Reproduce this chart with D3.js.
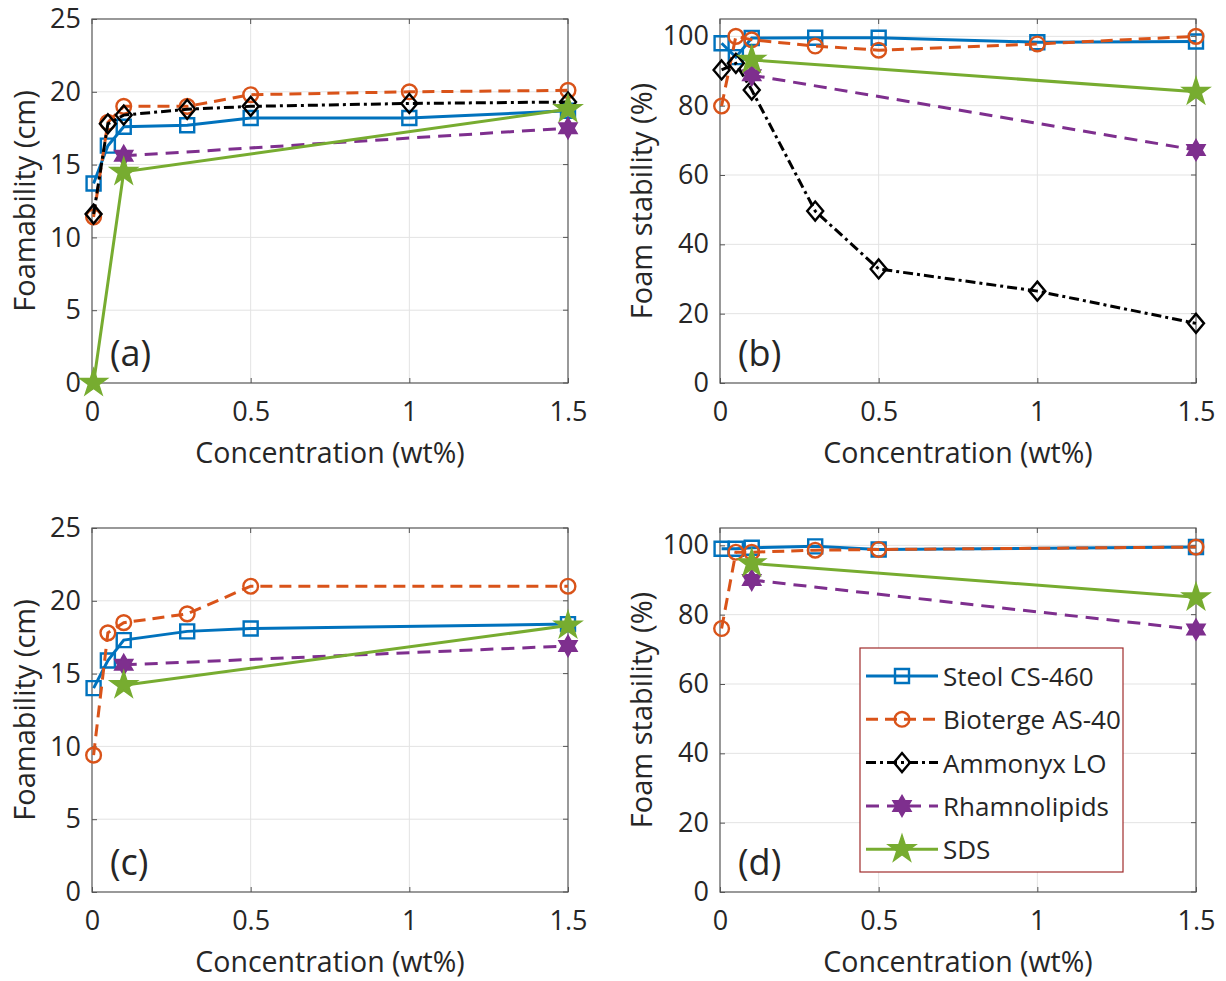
<!DOCTYPE html>
<html>
<head>
<meta charset="utf-8">
<script src="https://cdn.jsdelivr.net/npm/d3@7"></script>
<style>
  body { margin: 0; background: #fff; }
  text { font-family: "Open Sans", "Noto Sans", sans-serif; fill: #262626; }
</style>
</head>
<body>
<div id="chart"></div>
<script>
// concentration values (wt%)
const conc = [0.005, 0.05, 0.1, 0.3, 0.5, 1, 1.5];
const seriesNames = ['Steol CS-460', 'Bioterge AS-40', 'Ammonyx LO', 'Rhamnolipids', 'SDS'];

// (a) foamability, cm
const steolA    = [13.7, 16.3, 17.6, 17.7, 18.2, 18.2, 18.7];
const biotergeA = [11.4, 17.9, 19.0, 19.0, 19.8, 20.0, 20.1];
const ammonyxA  = [11.6, 17.8, 18.4, 18.8, 19.0, 19.2, 19.3];
const rhamnoA   = [null, null, 15.6, null, null, null, 17.5];
const sdsA      = [0, null, 14.5, null, null, null, 18.8];

// (b) foam stability, %
const steolB    = [98.0, 94.0, 99.5, 99.6, 99.6, 98.3, 98.5];
const biotergeB = [79.9, 100, 99.0, 97.2, 96.0, 97.8, 100];
const ammonyxB  = [90.3, 92.2, 84.5, 49.6, 32.9, 26.5, 17.2];
const rhamnoB   = [null, null, 88.8, null, null, null, 67.2];
const sdsB      = [null, null, 93.2, null, null, null, 84.0];

// (c) foamability, cm
const steolC    = [14.0, 15.9, 17.3, 17.9, 18.1, null, 18.4];
const biotergeC = [9.4, 17.8, 18.5, 19.1, 21.0, null, 21.0];
const rhamnoC   = [null, null, 15.6, null, null, null, 16.9];
const sdsC      = [null, null, 14.2, null, null, null, 18.3];

// (d) foam stability, %
const steolD    = [99.0, 99.0, 99.3, 99.7, 98.8, null, 99.5];
const biotergeD = [76.0, 98.0, 98.0, 98.6, 98.8, null, 99.5];
const rhamnoD   = [null, null, 90.0, null, null, null, 75.7];
const sdsD      = [null, null, 94.8, null, null, null, 85.0];

const xTicks = [0, 0.5, 1, 1.5];
const foamTicks = [0, 5, 10, 15, 20, 25];
const stabTicks = [0, 20, 40, 60, 80, 100];

const w = 1226, h = 981;
const svg = d3.select('#chart').append('svg')
  .attr('width', w).attr('height', h);

const styles = [
  { color: '#0072BD', dash: null, marker: 'square' },
  { color: '#D95319', dash: '12,7', marker: 'circle' },
  { color: '#000000', dash: '10,4,3,4', marker: 'diamond' },
  { color: '#7E2F8E', dash: '13,8', marker: 'hexagram' },
  { color: '#77AC30', dash: null, marker: 'star' }
];

function hexagram(r) {
  const pts = [];
  for (let i = 0; i < 12; i++) {
    const a = -Math.PI / 2 + i * Math.PI / 6;
    const rr = i % 2 === 0 ? r : r * 0.577;
    pts.push([rr * Math.cos(a), rr * Math.sin(a)]);
  }
  return 'M' + pts.map(p => p.join(',')).join('L') + 'Z';
}

function drawMarker(g, type, color, x, y) {
  const m = g.append('path').attr('transform', `translate(${x},${y})`)
    .attr('stroke', color).attr('stroke-width', 2.4);
  if (type === 'square') m.attr('d', 'M-7,-7H7V7H-7Z').attr('fill', 'none');
  else if (type === 'circle') m.attr('d', d3.symbol(d3.symbolCircle, 170)()).attr('fill', 'none');
  else if (type === 'diamond') m.attr('d', 'M0,-9.5L8,0L0,9.5L-8,0Z').attr('fill', 'none');
  else if (type === 'hexagram') m.attr('d', hexagram(10.5)).attr('fill', color).attr('stroke-width', 1.5);
  else if (type === 'star') m.attr('d', d3.symbol(d3.symbolStar, 230)()).attr('fill', color).attr('stroke-width', 1.5);
}

function drawPanel(p) {
  const x = d3.scaleLinear().domain([0, 1.5]).range([p.left, p.left + 476]);
  const y = d3.scaleLinear().domain(p.yDomain).range([p.top + 364, p.top]);
  const g = svg.append('g');

  // grid
  g.append('g').selectAll('line').data(xTicks.slice(1, -1)).enter().append('line')
    .attr('x1', d => x(d)).attr('x2', d => x(d))
    .attr('y1', y.range()[0]).attr('y2', y.range()[1])
    .attr('stroke', '#e3e3e3').attr('stroke-width', 1);
  g.append('g').selectAll('line').data(p.yTicks.filter(d => d > 0 && d < p.yDomain[1])).enter().append('line')
    .attr('x1', x.range()[0]).attr('x2', x.range()[1])
    .attr('y1', d => y(d)).attr('y2', d => y(d))
    .attr('stroke', '#e3e3e3').attr('stroke-width', 1);

  // axes
  const xAxis = d3.axisBottom(x).tickValues(xTicks).tickSizeInner(-5).tickSizeOuter(0).tickPadding(19)
    .tickFormat(d3.format('~g'));
  const yAxis = d3.axisLeft(y).tickValues(p.yTicks).tickSizeInner(-5).tickSizeOuter(0).tickPadding(11);
  g.append('g').attr('transform', `translate(0,${y.range()[0]})`).call(xAxis);
  g.append('g').attr('transform', `translate(${x.range()[0]},0)`).call(yAxis);
  g.selectAll('.tick text').attr('font-size', 27).attr('font-family', '"Open Sans", sans-serif').attr('fill', '#262626');
  g.selectAll('.tick line').attr('stroke', '#555');
  g.selectAll('.domain').remove();
  g.append('rect').attr('x', x.range()[0]).attr('y', y.range()[1])
    .attr('width', 476).attr('height', 364)
    .attr('fill', 'none').attr('stroke', '#555').attr('stroke-width', 1.2);
  // top/right ticks
  g.selectAll(null).data(xTicks).enter().append('line')
    .attr('x1', d => x(d)).attr('x2', d => x(d)).attr('y1', p.top).attr('y2', p.top + 5).attr('stroke', '#555');
  g.selectAll(null).data(p.yTicks).enter().append('line')
    .attr('x1', x.range()[1]).attr('x2', x.range()[1] - 5).attr('y1', d => y(d)).attr('y2', d => y(d)).attr('stroke', '#555');

  // series
  p.series.forEach(s => {
    const st = styles[s.idx];
    const pts = conc.map((c, i) => [c, s.values[i]]).filter(d => d[1] !== null);
    g.append('path').datum(pts)
      .attr('fill', 'none').attr('stroke', st.color).attr('stroke-width', 3)
      .attr('stroke-dasharray', st.dash)
      .attr('d', d3.line().x(d => x(d[0])).y(d => y(d[1])));
    pts.forEach(d => drawMarker(g, st.marker, st.color, x(d[0]), y(d[1])));
  });

  // labels
  g.append('text').attr('x', x(0.75)).attr('y', p.top + 444).attr('text-anchor', 'middle')
    .attr('font-size', 28.5).text('Concentration (wt%)');
  g.append('text').attr('transform', `translate(${p.left - p.labelOff},${p.top + 182}) rotate(-90)`)
    .attr('text-anchor', 'middle').attr('font-size', 29).text(p.yLabel);
  g.append('text').attr('x', p.left + 18).attr('y', p.top + 347)
    .attr('font-size', 36).text(p.tag);
}

drawPanel({ left: 92, top: 19, yDomain: [0, 25], yTicks: foamTicks, yLabel: 'Foamability (cm)', tag: '(a)', labelOff: 57,
  series: [{ idx: 0, values: steolA }, { idx: 1, values: biotergeA }, { idx: 2, values: ammonyxA },
           { idx: 3, values: rhamnoA }, { idx: 4, values: sdsA }] });
drawPanel({ left: 720, top: 19, yDomain: [0, 105], yTicks: stabTicks, yLabel: 'Foam stability (%)', tag: '(b)', labelOff: 68,
  series: [{ idx: 0, values: steolB }, { idx: 1, values: biotergeB }, { idx: 2, values: ammonyxB },
           { idx: 3, values: rhamnoB }, { idx: 4, values: sdsB }] });
drawPanel({ left: 92, top: 528, yDomain: [0, 25], yTicks: foamTicks, yLabel: 'Foamability (cm)', tag: '(c)', labelOff: 57,
  series: [{ idx: 0, values: steolC }, { idx: 1, values: biotergeC },
           { idx: 3, values: rhamnoC }, { idx: 4, values: sdsC }] });
drawPanel({ left: 720, top: 528, yDomain: [0, 105], yTicks: stabTicks, yLabel: 'Foam stability (%)', tag: '(d)', labelOff: 68,
  series: [{ idx: 0, values: steolD }, { idx: 1, values: biotergeD },
           { idx: 3, values: rhamnoD }, { idx: 4, values: sdsD }] });

// legend in (d)
const lg = svg.append('g');
lg.append('rect').attr('x', 860).attr('y', 648).attr('width', 263).attr('height', 224)
  .attr('fill', '#fff').attr('stroke', '#a02c2c').attr('stroke-width', 1.2);
seriesNames.forEach((name, i) => {
  const st = styles[i];
  const yy = 676 + i * 43.3;
  lg.append('line').attr('x1', 866).attr('x2', 938).attr('y1', yy).attr('y2', yy)
    .attr('stroke', st.color).attr('stroke-width', 3).attr('stroke-dasharray', st.dash);
  drawMarker(lg, st.marker, st.color, 902, yy);
  lg.append('text').attr('x', 943).attr('y', yy + 10).attr('font-size', 26).text(name);
});
</script>
</body>
</html>
